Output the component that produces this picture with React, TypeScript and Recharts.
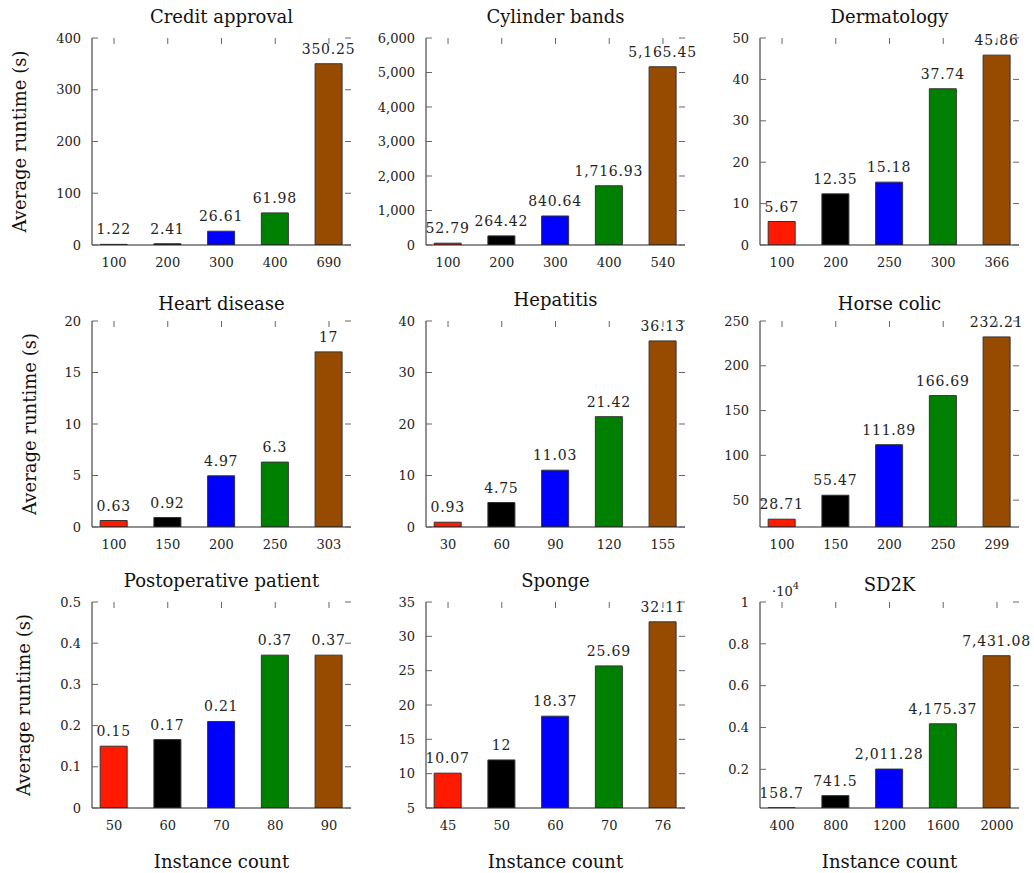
import React from 'react';
import { BarChart, Bar, XAxis, YAxis, Cell, LabelList } from 'recharts';

const barColors = ['#ff1a00', '#000000', '#0000ff', '#008000', '#964b00'];

// Credit approval
const creditCats = ['100', '200', '300', '400', '690'];
const creditVals = [1.22, 2.41, 26.61, 61.98, 350.25];
const creditTicks = [0, 100, 200, 300, 400];

// Cylinder bands
const cylinderCats = ['100', '200', '300', '400', '540'];
const cylinderVals = [52.79, 264.42, 840.64, 1716.93, 5165.45];
const cylinderTicks = [0, 1000, 2000, 3000, 4000, 5000, 6000];

// Dermatology
const dermaCats = ['100', '200', '250', '300', '366'];
const dermaVals = [5.67, 12.35, 15.18, 37.74, 45.86];
const dermaTicks = [0, 10, 20, 30, 40, 50];

// Heart disease
const heartCats = ['100', '150', '200', '250', '303'];
const heartVals = [0.63, 0.92, 4.97, 6.3, 17];
const heartTicks = [0, 5, 10, 15, 20];

// Hepatitis
const hepCats = ['30', '60', '90', '120', '155'];
const hepVals = [0.93, 4.75, 11.03, 21.42, 36.13];
const hepTicks = [0, 10, 20, 30, 40];

// Horse colic
const horseCats = ['100', '150', '200', '250', '299'];
const horseVals = [28.71, 55.47, 111.89, 166.69, 232.21];
const horseTicks = [50, 100, 150, 200, 250];

// Postoperative patient
const postCats = ['50', '60', '70', '80', '90'];
const postVals = [0.15, 0.166, 0.21, 0.371, 0.371];
const postTicks = [0, 0.1, 0.2, 0.3, 0.4, 0.5];

// Sponge
const spongeCats = ['45', '50', '60', '70', '76'];
const spongeVals = [10.07, 12, 18.37, 25.69, 32.11];
const spongeTicks = [5, 10, 15, 20, 25, 30, 35];

// SD2K (axis shown in units of 10^4)
const sdCats = ['400', '800', '1200', '1600', '2000'];
const sdVals = [158.7, 741.5, 2011.28, 4175.37, 7431.08];
const sdTicks = [2000, 4000, 6000, 8000, 10000];

const colLeft = [92, 426, 760];
const rowTop = [38, 321, 602];
const rowH = [207, 206, 206];
const plotW = 259;
const yLabelX = [26, 36, 29.5];

const serif = '"DejaVu Serif", serif';
const fmt = (v: number) => v.toLocaleString('en-US', { maximumFractionDigits: 2 });

const panels = [
  { title: 'Credit approval', cats: creditCats, vals: creditVals, ticks: creditTicks, domain: [0, 400], tf: fmt },
  { title: 'Cylinder bands', cats: cylinderCats, vals: cylinderVals, ticks: cylinderTicks, domain: [0, 6000], tf: fmt },
  { title: 'Dermatology', cats: dermaCats, vals: dermaVals, ticks: dermaTicks, domain: [0, 50], tf: fmt },
  { title: 'Heart disease', cats: heartCats, vals: heartVals, ticks: heartTicks, domain: [0, 20], tf: fmt },
  { title: 'Hepatitis', cats: hepCats, vals: hepVals, ticks: hepTicks, domain: [0, 40], tf: fmt },
  { title: 'Horse colic', cats: horseCats, vals: horseVals, ticks: horseTicks, domain: [20, 250], tf: fmt },
  { title: 'Postoperative patient', cats: postCats, vals: postVals, ticks: postTicks, domain: [0, 0.5], tf: fmt },
  { title: 'Sponge', cats: spongeCats, vals: spongeVals, ticks: spongeTicks, domain: [5, 35], tf: fmt },
  { title: 'SD2K', cats: sdCats, vals: sdVals, ticks: sdTicks, domain: [150, 10000], tf: (v: number) => fmt(v / 10000) },
];

const tickStroke = '#666';
const axisStroke = '#222';
const txt = { fontFamily: serif };

const Panel = ({ p, r, c }: any) => {
  const data = p.cats.map((cat: string, i: number) => ({ idx: i, value: p.vals[i] }));
  const h = rowH[r];
  return (
    <div style={{ position: 'absolute', left: colLeft[c] - 92, top: rowTop[r] - 38 }}>
      <BarChart width={92 + plotW + 20} height={38 + h + 40} data={data} margin={{ top: 38, right: 20, bottom: 10, left: 0 }}>
        <XAxis
          xAxisId="top"
          orientation="top"
          type="number"
          domain={[-0.41, 4.41]}
          ticks={[0, 1, 2, 3, 4]}
          allowDataOverflow
          height={0}
          tick={false}
          tickLine={false}
          axisLine={{ stroke: axisStroke }}
        />
        <YAxis
          yAxisId="right"
          orientation="right"
          type="number"
          domain={p.domain}
          ticks={p.ticks}
          allowDataOverflow
          width={0}
          tick={false}
          tickLine={false}
          axisLine={{ stroke: axisStroke }}
        />
        <XAxis
          dataKey="idx"
          type="number"
          domain={[-0.41, 4.41]}
          ticks={[0, 1, 2, 3, 4]}
          allowDataOverflow
          height={30}
          tickSize={0}
          tickMargin={0}
          tickLine={false}
          axisLine={{ stroke: axisStroke }}
          tick={(t: any) => (
            <g>
              <line x1={t.x} x2={t.x} y1={t.y - h} y2={t.y - h + 6} stroke={tickStroke} />
              <text x={t.x} y={t.y + 22} textAnchor="middle" style={txt} fontSize={13} fill="#222">
                {p.cats[t.payload.value]}
              </text>
            </g>
          )}
        />
        <YAxis
          type="number"
          domain={p.domain}
          ticks={p.ticks}
          allowDataOverflow
          width={92}
          tickSize={0}
          tickMargin={0}
          tickLine={false}
          axisLine={{ stroke: axisStroke }}
          tick={(t: any) => (
            <g>
              <line x1={t.x} x2={t.x + 6} y1={t.y} y2={t.y} stroke={tickStroke} />
              <line x1={t.x + plotW - 6} x2={t.x + plotW} y1={t.y} y2={t.y} stroke={tickStroke} />
              <text x={t.x - 11} y={t.y} dy="0.36em" textAnchor="end" style={txt} fontSize={13} fill="#222">
                {p.tf(t.payload.value)}
              </text>
            </g>
          )}
        />
        <Bar dataKey="value" barSize={27} stroke="#333" strokeWidth={1} isAnimationActive={false}>
          {data.map((d: any, i: number) => (
            <Cell key={i} fill={barColors[i]} />
          ))}
          <LabelList
            dataKey="value"
            content={(lp: any) => (
              <text
                x={Number(lp.x) + Number(lp.width) / 2}
                y={Number(lp.y) - 10}
                textAnchor="middle"
                style={txt}
                fontSize={14}
                letterSpacing={0.8}
                fill="#222"
              >
                {fmt(Number(lp.value))}
              </text>
            )}
          />
        </Bar>
      </BarChart>
    </div>
  );
};

export default function App() {
  return (
    <div style={{ position: 'absolute', left: 0, top: 0, width: 1034, height: 873, background: '#fff' }}>
      <svg width={1034} height={873} style={{ position: 'absolute', left: 0, top: 0 }}>
        {panels.map((p, k) => {
          const r = Math.floor(k / 3);
          const c = k % 3;
          const desc = /[gjpqy]/.test(p.title);
          return (
            <text
              key={'t' + k}
              x={colLeft[c] + plotW / 2}
              y={rowTop[r] - (desc ? 15 : 11)}
              textAnchor="middle"
              style={txt}
              fontSize={18}
              fill="#111"
            >
              {p.title}
            </text>
          );
        })}
        {rowTop.map((t, r) => (
          <text
            key={'y' + r}
            transform={`translate(${yLabelX[r]}, ${t + rowH[r] / 2}) rotate(-90)`}
            textAnchor="middle"
            style={txt}
            fontSize={18}
            fill="#111"
          >
            Average runtime (s)
          </text>
        ))}
        {colLeft.map((l, c) => (
          <text key={'x' + c} x={l + plotW / 2} y={868} textAnchor="middle" style={txt} fontSize={18} fill="#111">
            Instance count
          </text>
        ))}
        <text x={772} y={596} style={txt} fontSize={13} fill="#222">
          ·10<tspan dy={-7} fontSize={10}>4</tspan>
        </text>
      </svg>
      {panels.map((p, k) => (
        <Panel key={k} p={p} r={Math.floor(k / 3)} c={k % 3} />
      ))}
    </div>
  );
}
